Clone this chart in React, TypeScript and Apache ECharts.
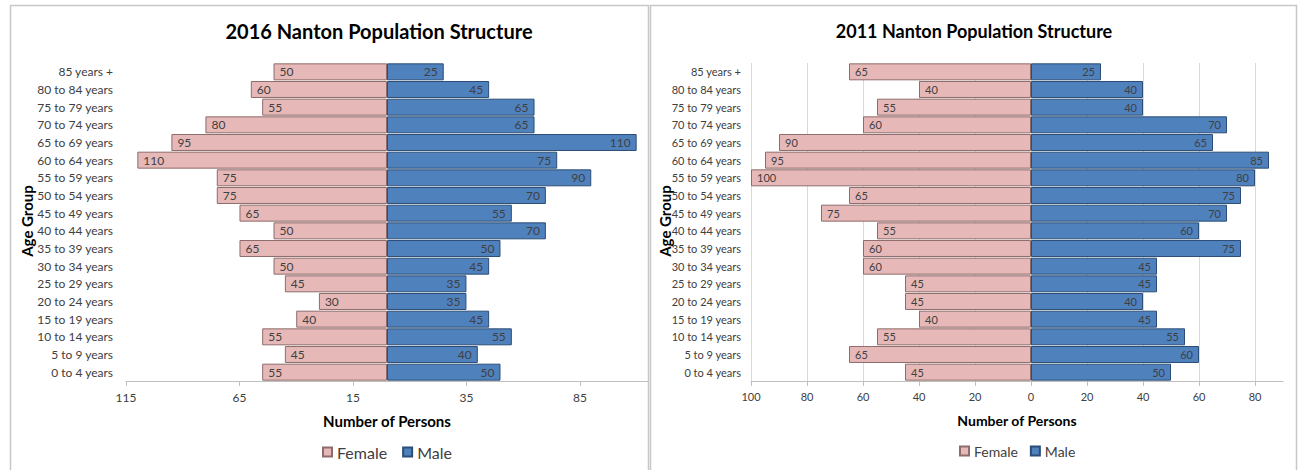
import React, { useEffect, useRef } from 'react';
import * as echarts from 'echarts';

const ageGroups = [
  '0 to 4 years', '5 to 9 years', '10 to 14 years', '15 to 19 years', '20 to 24 years',
  '25 to 29 years', '30 to 34 years', '35 to 39 years', '40 to 44 years', '45 to 49 years',
  '50 to 54 years', '55 to 59 years', '60 to 64 years', '65 to 69 years', '70 to 74 years',
  '75 to 79 years', '80 to 84 years', '85 years +',
];
const female2016 = [55, 45, 55, 40, 30, 45, 50, 65, 50, 65, 75, 75, 110, 95, 80, 55, 60, 50];
const male2016 = [50, 40, 55, 45, 35, 35, 45, 50, 70, 55, 70, 90, 75, 110, 65, 65, 45, 25];
const female2011 = [45, 65, 55, 40, 45, 45, 60, 60, 55, 75, 65, 100, 95, 90, 60, 55, 40, 65];
const male2011 = [50, 60, 55, 45, 40, 45, 45, 75, 60, 70, 75, 80, 85, 65, 70, 40, 40, 25];
const ticks2016 = [-115, -65, -15, 35, 85];
const ticks2011 = [-100, -80, -60, -40, -20, 0, 20, 40, 60, 80];

const FONT = 'Lato, "Noto Sans", sans-serif';
const TEXT = '#404040';
const FEMALE_FILL = '#E6B9B8';
const FEMALE_BORDER = '#8E6C6B';
const MALE_FILL = '#4F81BD';
const MALE_BORDER = '#2C4D75';

function barSeries(name: string, values: number[], idx: number, negative: boolean, fs: number) {
  return {
    type: 'bar',
    name,
    xAxisIndex: idx,
    yAxisIndex: idx,
    data: values.map((v) => (negative ? -v : v)),
    barCategoryGap: '4%',
    barGap: '-100%',
    itemStyle: {
      color: negative ? FEMALE_FILL : MALE_FILL,
      borderColor: negative ? FEMALE_BORDER : MALE_BORDER,
      borderWidth: 1,
    },
    label: {
      show: true,
      position: negative ? 'insideLeft' : 'insideRight',
      distance: 6,
      formatter: (p: any) => String(Math.abs(p.value)),
      color: TEXT,
      fontSize: fs,
      fontFamily: FONT,
    },
  };
}

export default function App() {
  const ref = useRef<HTMLDivElement>(null);
  useEffect(() => {
    if (!ref.current) return;
    const chart = echarts.init(ref.current, undefined, { renderer: 'svg' });
    const option: any = {
      animation: false,
      backgroundColor: '#ffffff',
      textStyle: { fontFamily: FONT },
      grid: [
        { left: 126, top: 63, width: 522, height: 318, containLabel: false },
        { left: 751, top: 63, width: 532, height: 318, containLabel: false },
      ],
      xAxis: [
        {
          type: 'value', gridIndex: 0, min: -115, max: 115,
          axisLine: { show: true, lineStyle: { color: '#BFBFBF', width: 1 } },
          axisTick: { show: true, length: 5, customValues: ticks2016, lineStyle: { color: '#BFBFBF' } },
          axisLabel: {
            customValues: ticks2016, formatter: (v: number) => String(Math.abs(v)),
            color: TEXT, fontSize: 12, margin: 10, fontFamily: FONT,
          },
          splitLine: { show: false },
        },
        {
          type: 'value', gridIndex: 1, min: -100, max: 90,
          axisLine: { show: true, lineStyle: { color: '#BFBFBF', width: 1 } },
          axisTick: { show: true, length: 5, customValues: ticks2011, lineStyle: { color: '#BFBFBF' } },
          axisLabel: {
            customValues: ticks2011, formatter: (v: number) => String(Math.abs(v)),
            color: TEXT, fontSize: 11, margin: 10, fontFamily: FONT,
          },
          splitLine: { show: true, lineStyle: { color: '#D9D9D9', width: 1 } },
        },
      ],
      yAxis: [
        {
          type: 'category', gridIndex: 0, data: ageGroups,
          axisLine: { show: false }, axisTick: { show: false },
          axisLabel: { color: TEXT, fontSize: 12, margin: 13, fontFamily: FONT, interval: 0 },
        },
        {
          type: 'category', gridIndex: 1, data: ageGroups,
          axisLine: { show: false }, axisTick: { show: false },
          axisLabel: { color: TEXT, fontSize: 11, margin: 10, fontFamily: FONT, interval: 0 },
        },
      ],
      legend: [
        {
          data: ['Female', 'Male'], left: 322, top: 444, padding: 0, icon: 'rect',
          itemWidth: 9, itemHeight: 9, itemGap: 15, selectedMode: false,
          textStyle: { color: TEXT, fontSize: 16, fontFamily: FONT },
        },
        {
          data: ['Female', 'Male'], left: 959, top: 444, padding: 0, icon: 'rect',
          itemWidth: 9, itemHeight: 9, itemGap: 12, selectedMode: false,
          textStyle: { color: TEXT, fontSize: 14, fontFamily: FONT },
        },
      ],
      graphic: [
        { type: 'rect', shape: { x: 10.5, y: 5.5, width: 638, height: 480 }, style: { fill: 'none', stroke: '#C8C8C8', lineWidth: 1.5 }, silent: true },
        { type: 'rect', shape: { x: 650.5, y: 5.5, width: 646, height: 480 }, style: { fill: 'none', stroke: '#C8C8C8', lineWidth: 1.5 }, silent: true },
        { type: 'text', x: 379, y: 31, style: { text: '2016 Nanton Population Structure', align: 'center', verticalAlign: 'middle', font: `bold 20px ${FONT}`, fill: '#000000' } },
        { type: 'text', x: 974, y: 31, style: { text: '2011 Nanton Population Structure', align: 'center', verticalAlign: 'middle', font: `bold 18px ${FONT}`, fill: '#000000' } },
        { type: 'text', x: 387, y: 421, style: { text: 'Number of Persons', align: 'center', verticalAlign: 'middle', font: `bold 15px ${FONT}`, fill: '#000000' } },
        { type: 'text', x: 1017, y: 420, style: { text: 'Number of Persons', align: 'center', verticalAlign: 'middle', font: `bold 14px ${FONT}`, fill: '#000000' } },
        { type: 'text', x: 27, y: 221, rotation: Math.PI / 2, style: { text: 'Age Group', align: 'center', verticalAlign: 'middle', font: `bold 15px ${FONT}`, fill: '#000000' } },
        { type: 'text', x: 665, y: 221, rotation: Math.PI / 2, style: { text: 'Age Group', align: 'center', verticalAlign: 'middle', font: `bold 15px ${FONT}`, fill: '#000000' } },
      ],
      series: [
        barSeries('Female', female2016, 0, true, 12),
        barSeries('Male', male2016, 0, false, 12),
        barSeries('Female', female2011, 1, true, 11),
        barSeries('Male', male2011, 1, false, 11),
      ],
    };
    chart.setOption(option);
    return () => chart.dispose();
  }, []);
  return (
    <div
      ref={ref}
      style={{ position: 'fixed', left: 0, top: 0, width: 1298, height: 470 }}
    />
  );
}
